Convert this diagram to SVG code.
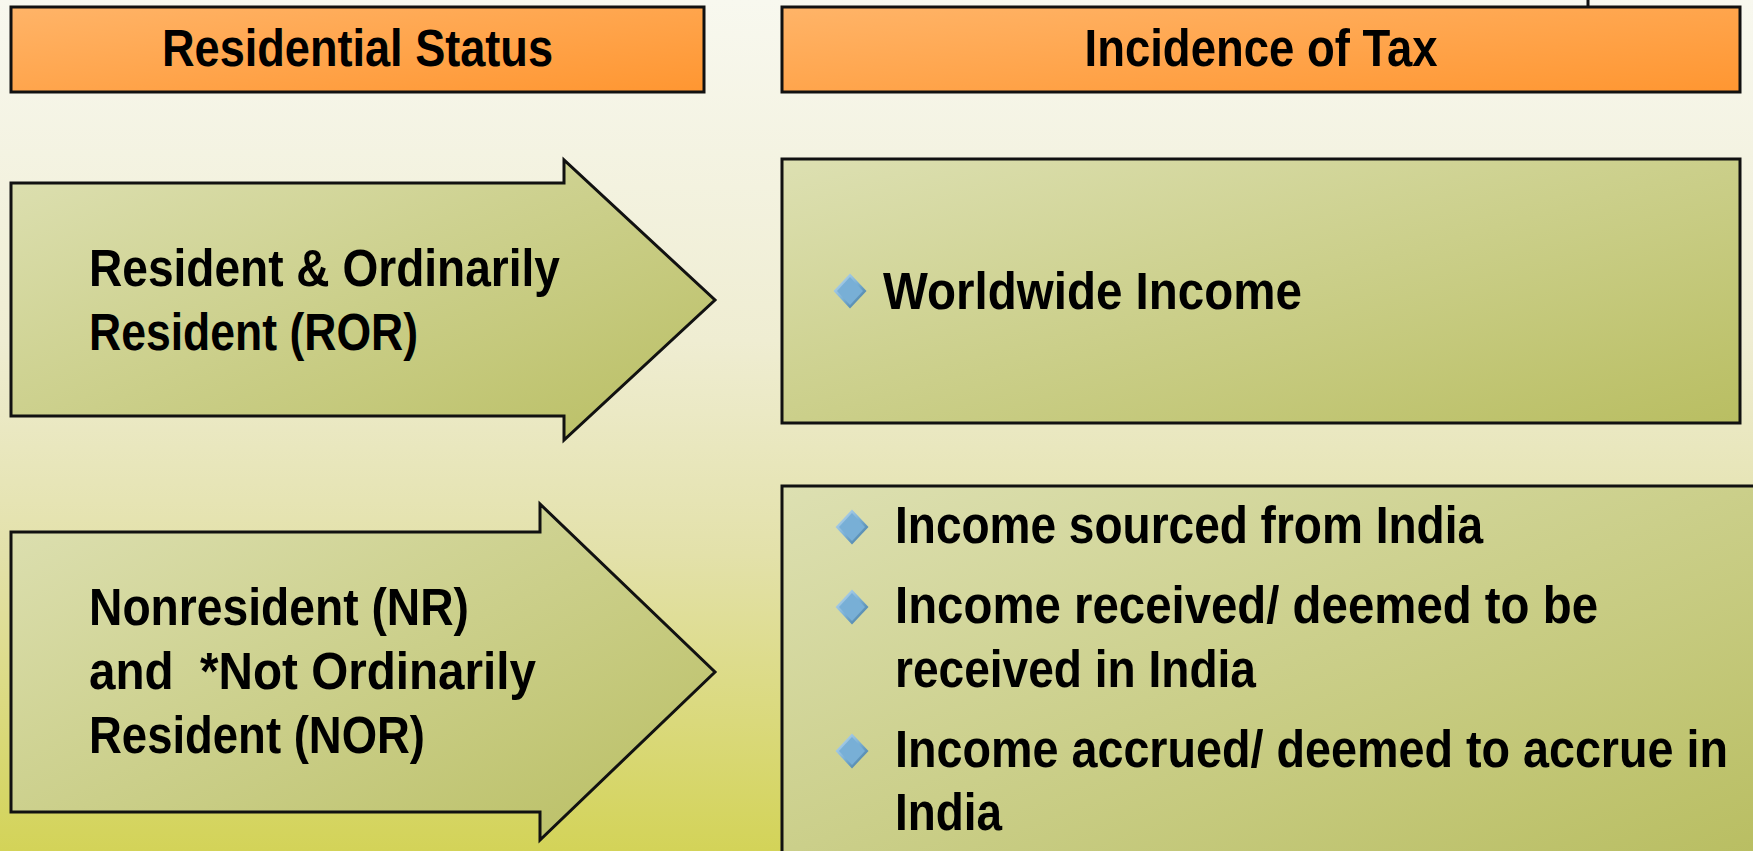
<svg xmlns="http://www.w3.org/2000/svg" xmlns:xlink="http://www.w3.org/1999/xlink" width="1753" height="851" viewBox="0 0 1753 851">
  <style>
    .hdr { stroke: #111; stroke-width: 3; fill: url(#gOrange); }
    .grn { stroke: #111; stroke-width: 3; fill: url(#gGreen); stroke-linejoin: miter; }
    .t { font-family: "Liberation Sans Narrow", "Liberation Sans", Arial, sans-serif; font-weight: bold; font-size: 51px; fill: #000; }
    .mid { text-anchor: middle; }
  </style>
  <defs>
    <linearGradient id="gBg" x1="0" y1="0" x2="0" y2="1">
      <stop offset="0" stop-color="#F8F8EF"/>
      <stop offset="0.4" stop-color="#EFEDD2"/>
      <stop offset="0.65" stop-color="#E3E1AA"/>
      <stop offset="1" stop-color="#D3D358"/>
    </linearGradient>
    <linearGradient id="gOrange" x1="0" y1="0" x2="1" y2="1">
      <stop offset="0" stop-color="#FFB468"/>
      <stop offset="1" stop-color="#FF9631"/>
    </linearGradient>
    <linearGradient id="gGreen" x1="0" y1="0" x2="1" y2="1">
      <stop offset="0" stop-color="#DDE0B2"/>
      <stop offset="1" stop-color="#B9BE62"/>
    </linearGradient>
    <linearGradient id="gBevel" x1="0" y1="0" x2="1" y2="1">
      <stop offset="0" stop-color="#C8E0F2"/>
      <stop offset="0.5" stop-color="#7AB0D6"/>
      <stop offset="1" stop-color="#3A6E93"/>
    </linearGradient>
    <g id="bullet">
      <polygon points="0,-17.5 16.5,0 0,17.5 -16.5,0" fill="url(#gBevel)"/>
      <polygon points="0,-14 13,0 0,14 -13,0" fill="#78AFD6"/>
    </g>
  </defs>

  <!-- background -->
  <rect x="0" y="0" width="1753" height="851" fill="url(#gBg)"/>

  <!-- connectors -->
  <g id="connectors">
    <line x1="1588" y1="0" x2="1588" y2="7" stroke="#111" stroke-width="3"/>
  </g>

  <!-- column headers -->
  <g id="header-status">
    <rect class="hdr" x="11" y="7" width="693" height="85"/>
    <text class="t mid" x="357.5" y="66" textLength="391" lengthAdjust="spacingAndGlyphs">Residential Status</text>
  </g>
  <g id="header-incidence">
    <rect class="hdr" x="782" y="7" width="958" height="85"/>
    <text class="t mid" x="1261" y="66" textLength="353" lengthAdjust="spacingAndGlyphs">Incidence of Tax</text>
  </g>

  <!-- status arrows -->
  <g id="status-ror">
    <polygon class="grn" points="11,183 564,183 564,160 715,300 564,440 564,416 11,416"/>
    <text class="t" x="89" y="286" textLength="471" lengthAdjust="spacingAndGlyphs">Resident &amp; Ordinarily</text>
    <text class="t" x="89" y="350" textLength="329" lengthAdjust="spacingAndGlyphs">Resident (ROR)</text>
  </g>
  <g id="status-nr-nor">
    <polygon class="grn" points="11,532 540,532 540,504 715,672 540,840 540,812 11,812"/>
    <text class="t" x="89" y="625" textLength="380" lengthAdjust="spacingAndGlyphs">Nonresident (NR)</text>
    <text class="t" x="89" y="689" textLength="447" lengthAdjust="spacingAndGlyphs" xml:space="preserve">and  *Not Ordinarily</text>
    <text class="t" x="89" y="753" textLength="336" lengthAdjust="spacingAndGlyphs">Resident (NOR)</text>
  </g>

  <!-- incidence boxes -->
  <g id="incidence-ror">
    <rect class="grn" x="782" y="159" width="958" height="264"/>
    <use xlink:href="#bullet" href="#bullet" x="850" y="291"/>
    <text class="t" x="883" y="309" textLength="419" lengthAdjust="spacingAndGlyphs">Worldwide Income</text>
  </g>
  <g id="incidence-nr-nor">
    <rect class="grn" x="782" y="486" width="974" height="368"/>
    <use xlink:href="#bullet" href="#bullet" x="852" y="527"/>
    <text class="t" x="895" y="543" textLength="588" lengthAdjust="spacingAndGlyphs">Income sourced from India</text>
    <use xlink:href="#bullet" href="#bullet" x="852" y="607"/>
    <text class="t" x="895" y="623" textLength="703" lengthAdjust="spacingAndGlyphs">Income received/ deemed to be</text>
    <text class="t" x="895" y="687" textLength="361" lengthAdjust="spacingAndGlyphs">received in India</text>
    <use xlink:href="#bullet" href="#bullet" x="852" y="751"/>
    <text class="t" x="895" y="767" textLength="833" lengthAdjust="spacingAndGlyphs">Income accrued/ deemed to accrue in</text>
    <text class="t" x="895" y="830" textLength="107" lengthAdjust="spacingAndGlyphs">India</text>
  </g>
</svg>
